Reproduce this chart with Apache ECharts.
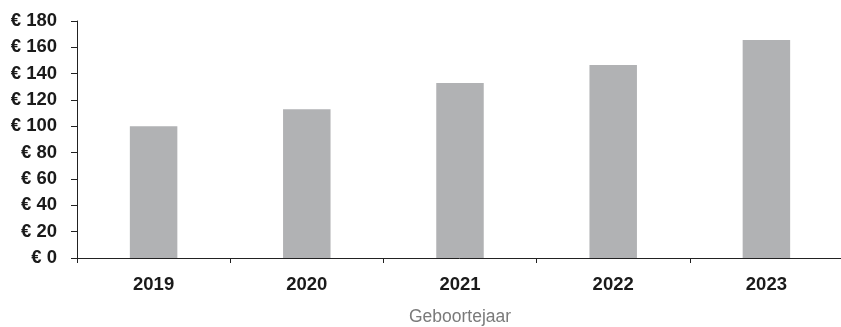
<!DOCTYPE html>
<html>
<head>
<meta charset="utf-8">
<script src="https://cdn.jsdelivr.net/npm/echarts@6/dist/echarts.min.js"></script>
<style>
  html, body { margin: 0; padding: 0; background: #fff; }
  #chart { width: 841px; height: 327px; }
</style>
</head>
<body>
<div id="chart"></div>
<script>
// Jaarlijkse bedragen per geboortejaar
const categories = ['2019', '2020', '2021', '2022', '2023'];
const values = [100, 113, 133, 146.5, 165.5];
const yTicks = { min: 0, max: 180, interval: 20 };
const xAxisTitle = 'Geboortejaar';

const FONT = '"Liberation Sans", Arial, sans-serif';

const chart = echarts.init(document.getElementById('chart'), null, { renderer: 'canvas' });
chart.setOption({
  animation: false,
  grid: { left: 77, right: -2, top: 21, bottom: 69, containLabel: false, outerBoundsMode: 'none' },
  xAxis: {
    type: 'category',
    data: categories,
    name: xAxisTitle,
    nameLocation: 'middle',
    nameGap: 50,
    nameTextStyle: { color: '#7a7a7a', fontFamily: FONT, fontSize: 17.5 },
    axisLine: { lineStyle: { color: '#222', width: 1 } },
    axisTick: { show: true, length: 5, alignWithLabel: false, lineStyle: { color: '#222' } },
    axisLabel: { color: '#1a1a1a', fontFamily: FONT, fontSize: 18.5, fontWeight: 'bold', margin: 17 }
  },
  yAxis: {
    type: 'value',
    min: yTicks.min,
    max: yTicks.max,
    interval: yTicks.interval,
    splitLine: { show: false },
    axisLine: { show: true, lineStyle: { color: '#222', width: 1 } },
    axisTick: { show: true, length: 6, lineStyle: { color: '#222' } },
    axisLabel: {
      color: '#1a1a1a', fontFamily: FONT, fontSize: 18.5, fontWeight: 'bold', margin: 20,
      formatter: v => '€ ' + v
    }
  },
  series: [{
    type: 'bar',
    data: values,
    barWidth: '31%',
    itemStyle: { color: '#b1b2b4' }
  }]
});
</script>
</body>
</html>
